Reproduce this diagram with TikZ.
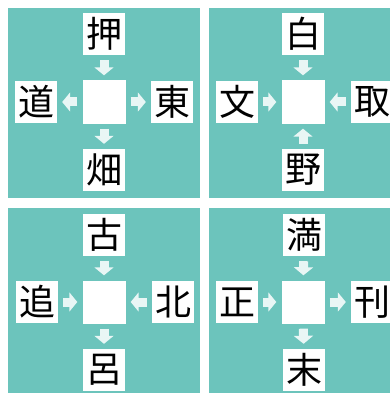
\documentclass[tikz,border=0pt]{standalone}
\usepackage{fontspec}
\newfontfamily\jp{Noto Sans CJK JP}
\usetikzlibrary{arrows.meta}
\definecolor{panelteal}{HTML}{6CC4BC}
\begin{document}
\begin{tikzpicture}[x=1pt, y=-1pt,
    kanji/.style={fill=white, inner sep=0pt, minimum width=42pt, minimum height=42pt,
        font=\jp\fontsize{36}{36}\selectfont},
    blank/.style={fill=white, minimum size=43pt, inner sep=0pt},
    blockarrow/.style={-{Triangle[width=19pt, length=8pt]}, line width=9pt,
        draw=white!85!panelteal, shorten <=5pt, shorten >=5pt}]
    \useasboundingbox (0,0) rectangle (390,393);
    \fill[white] (0,0) rectangle (390,393);

    % the four panels
    \fill[panelteal] (8,8) rectangle (200,198);
    \fill[panelteal] (209,8) rectangle (395,198);
    \fill[panelteal] (8,208) rectangle (200,398);
    \fill[panelteal] (209,208) rectangle (395,398);

    % panel 1
    \node[blank] (c1) at (104,102) {};
    \node[kanji] (t1) at (104,34) {押};
    \node[kanji] (l1) at (36,102) {道};
    \node[kanji] (r1) at (172,102) {東};
    \node[kanji] (b1) at (104,170) {畑};
    \draw[blockarrow] (t1) -- (c1);
    \draw[blockarrow] (c1) -- (l1);
    \draw[blockarrow] (c1) -- (r1);
    \draw[blockarrow] (c1) -- (b1);

    % panel 2
    \node[blank] (c2) at (303,102) {};
    \node[kanji] (t2) at (303,34) {白};
    \node[kanji] (l2) at (237,102) {文};
    \node[kanji] (r2) at (372,102) {取};
    \node[kanji] (b2) at (303,170) {野};
    \draw[blockarrow] (t2) -- (c2);
    \draw[blockarrow] (l2) -- (c2);
    \draw[blockarrow] (r2) -- (c2);
    \draw[blockarrow] (b2) -- (c2);

    % panel 3
    \node[blank] (c3) at (104,302) {};
    \node[kanji] (t3) at (104,235) {古};
    \node[kanji] (l3) at (37,302) {追};
    \node[kanji] (r3) at (173,302) {北};
    \node[kanji] (b3) at (104,370) {呂};
    \draw[blockarrow] (t3) -- (c3);
    \draw[blockarrow] (l3) -- (c3);
    \draw[blockarrow] (r3) -- (c3);
    \draw[blockarrow] (c3) -- (b3);

    % panel 4
    \node[blank] (c4) at (303,302) {};
    \node[kanji] (t4) at (304,235) {満};
    \node[kanji] (l4) at (237,302) {正};
    \node[kanji] (r4) at (372,302) {刊};
    \node[kanji] (b4) at (304,370) {末};
    \draw[blockarrow] (t4) -- (c4);
    \draw[blockarrow] (l4) -- (c4);
    \draw[blockarrow] (c4) -- (r4);
    \draw[blockarrow] (c4) -- (b4);
\end{tikzpicture}
\end{document}
